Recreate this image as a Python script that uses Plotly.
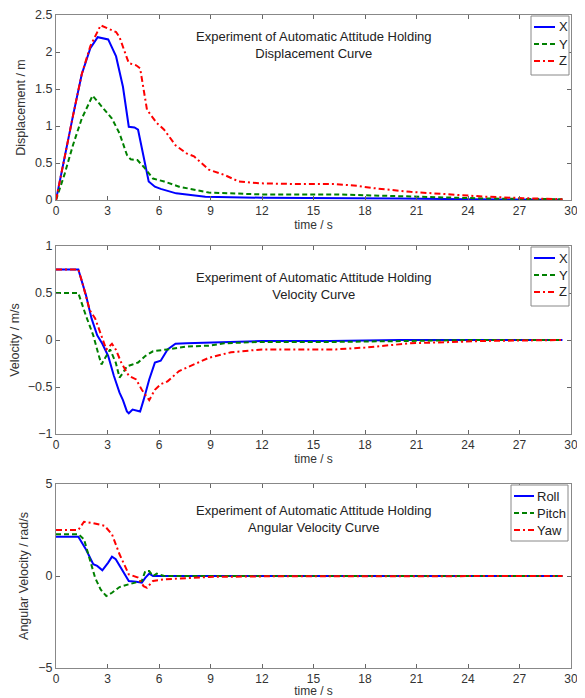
import plotly.graph_objects as go

# ---------------- data ----------------
# Panel 1: displacement
t_dx = [0, 0.5, 1.0, 1.5, 2.0, 2.43, 2.7, 3.04, 3.5, 3.9, 4.24, 4.57, 4.78, 5.1, 5.4, 5.76, 6.1, 7.0, 8.7, 12, 15, 20, 24, 29.5]
dx = [0, 0.6, 1.15, 1.7, 2.05, 2.2, 2.19, 2.17, 1.94, 1.53, 0.99, 0.98, 0.95, 0.58, 0.25, 0.18, 0.15, 0.09, 0.045, 0.03, 0.03, 0.02, 0.01, 0.005]

t_dy = [0, 0.5, 1.0, 1.5, 2.13, 2.83, 3.26, 3.7, 4.13, 4.35, 4.74, 5.1, 5.65, 6.3, 7.17, 8.9, 12, 16.3, 18.5, 20.65, 25, 29.5]
dy = [0, 0.35, 0.75, 1.1, 1.41, 1.22, 1.1, 0.9, 0.61, 0.55, 0.54, 0.45, 0.29, 0.25, 0.18, 0.1, 0.075, 0.075, 0.06, 0.045, 0.02, 0.01]

t_dz = [0, 0.5, 1.0, 1.5, 2.0, 2.6, 3.5, 3.7, 4.24, 4.67, 4.9, 5.3, 5.87, 6.3, 6.96, 7.6, 8.04, 8.9, 9.8, 10.65, 11.96, 14.1, 16.3, 17.6, 18.5, 20.65, 22.8, 25, 27.2, 29.5]
dz = [0, 0.6, 1.15, 1.7, 2.08, 2.36, 2.27, 2.2, 1.85, 1.82, 1.78, 1.22, 1.04, 0.95, 0.74, 0.63, 0.59, 0.41, 0.34, 0.25, 0.225, 0.215, 0.215, 0.19, 0.16, 0.11, 0.08, 0.045, 0.025, 0.01]

# Panel 2: velocity
t_vx = [0, 1.3, 1.74, 2.07, 2.4, 2.7, 3.04, 3.37, 3.7, 3.9, 4.13, 4.24, 4.46, 4.67, 4.9, 5.1, 5.43, 5.76, 6.1, 6.5, 6.96, 7.6, 9.8, 12, 16, 20, 24, 29.5]
vx = [0.75, 0.75, 0.48, 0.23, 0.05, -0.04, -0.17, -0.38, -0.56, -0.64, -0.76, -0.78, -0.74, -0.75, -0.76, -0.64, -0.42, -0.24, -0.22, -0.1, -0.04, -0.035, -0.02, -0.01, -0.01, 0.0, 0.0, 0.0]

t_vy = [0, 1.3, 1.74, 2.17, 2.5, 2.65, 2.83, 3.15, 3.48, 3.7, 3.9, 4.13, 4.46, 4.78, 5.2, 5.65, 6.5, 7.6, 8.9, 9.8, 12, 16.3, 20.65, 24, 29.5]
vy = [0.5, 0.5, 0.26, 0.05, -0.17, -0.26, -0.2, -0.1, -0.24, -0.4, -0.35, -0.28, -0.26, -0.24, -0.17, -0.12, -0.1, -0.07, -0.06, -0.035, -0.02, -0.02, -0.01, 0.0, 0.0]

t_vz = [0, 1.3, 1.52, 1.96, 2.28, 2.7, 2.93, 3.26, 3.48, 3.8, 4.24, 4.67, 5.0, 5.43, 5.76, 6.1, 6.5, 7.17, 8.04, 8.9, 10.2, 12, 16.3, 18, 20.65, 22.8, 25, 29.5]
vz = [0.75, 0.75, 0.62, 0.32, 0.23, 0.01, -0.1, -0.04, -0.1, -0.24, -0.38, -0.42, -0.53, -0.64, -0.53, -0.47, -0.44, -0.33, -0.26, -0.19, -0.13, -0.1, -0.1, -0.08, -0.035, -0.025, -0.01, 0.0]

# Panel 3: angular velocity
t_roll = [0, 1.3, 1.74, 2.17, 2.4, 2.7, 3.04, 3.26, 3.48, 3.9, 4.24, 4.67, 5.0, 5.2, 5.43, 5.65, 6.5, 9, 15, 22, 29.5]
roll = [2.13, 2.13, 1.45, 0.64, 0.55, 0.31, 0.73, 1.05, 0.91, 0.27, -0.27, -0.31, -0.36, -0.1, 0.13, 0.0, 0.0, 0.0, 0.0, 0.0, 0.0]

t_pitch = [0, 1.3, 1.63, 1.96, 2.28, 2.6, 2.93, 3.26, 3.7, 4.24, 4.67, 5.0, 5.2, 5.43, 5.65, 5.87, 6.3, 9, 15, 22, 29.5]
pitch = [2.27, 2.27, 2.0, 1.0, -0.1, -0.73, -1.09, -0.91, -0.6, -0.45, -0.36, -0.27, 0.27, 0.27, 0.0, 0.13, 0.0, 0.0, 0.0, 0.0, 0.0]

t_yaw = [0, 1.3, 1.63, 2.17, 2.83, 3.26, 3.7, 4.24, 4.78, 5.1, 5.3, 5.65, 6.3, 7.6, 8.9, 12, 18, 24, 29.5]
yaw = [2.5, 2.5, 2.95, 2.87, 2.73, 2.27, 1.18, 0.09, -0.09, -0.55, -0.64, -0.27, -0.18, -0.13, -0.05, -0.02, 0.0, 0.0, 0.0]

x_ticks = [0, 3, 6, 9, 12, 15, 18, 21, 24, 27, 30]
y_ticks = [[0, 0.5, 1, 1.5, 2, 2.5], [-1, -0.5, 0, 0.5, 1], [-5, 0, 5]]
panel_titles = ["Experiment of Automatic Attitude Holding<br>Displacement Curve",
                "Experiment of Automatic Attitude Holding<br>Velocity Curve",
                "Experiment of Automatic Attitude Holding<br>Angular Velocity Curve"]
y_titles = ["Displacement / m", "Velocity / m/s", "Angular Velocity / rad/s"]
legend_names = [["X", "Y", "Z"], ["X", "Y", "Z"], ["Roll", "Pitch", "Yaw"]]

# ---------------- figure ----------------
BLUE = "#0000ff"
GREEN = "#008000"
RED = "#ff0000"
COLORS = [BLUE, GREEN, RED]
DASH = "5px,3px"
DASHDOT = "6px,3px,2px,3px"
DASHES = ["solid", DASH, DASHDOT]
OFF = 8            # page body margin of the html page
W = 585 - OFF      # figure size so that it fits the window exactly
H = 698 - OFF
FONT = "Liberation Sans, Arial, sans-serif"

fig = go.Figure()

series = [
    [(t_dx, dx), (t_dy, dy), (t_dz, dz)],
    [(t_vx, vx), (t_vy, vy), (t_vz, vz)],
    [(t_roll, roll), (t_pitch, pitch), (t_yaw, yaw)],
]

for i, group in enumerate(series):
    sfx = "" if i == 0 else str(i + 1)
    for j, (t, v) in enumerate(group):
        fig.add_trace(go.Scatter(
            x=t, y=v, name=legend_names[i][j], mode="lines",
            line=dict(color=COLORS[j], width=2, dash=DASHES[j]),
            xaxis="x" + sfx, yaxis="y" + sfx, showlegend=False,
        ))

def px_x(p):
    return (p - OFF) / W

def px_y(p):
    return 1 - (p - OFF) / H

x_dom = [px_x(56), px_x(571)]
panels_px = [(15, 200), (246, 434), (484, 668)]
y_ranges = [[0, 2.5], [-1, 1], [-5, 5]]
title_y = [(2.2, 1.99), (0.65, 0.49), (3.5, 2.7)]
# legend boxes in pixels: (left, right, line_start, line_end, text_x)
legend_px = [(531, 569, 534, 555, 557), (531, 569, 534, 555, 557), (511, 568, 514, 534, 535)]
legend_rows = [11, 28, 45]
legend_h = [59, 59, 56]

axis_common = dict(
    showgrid=False, zeroline=False, showline=True, mirror="ticks",
    linecolor="#888888", linewidth=1, ticks="inside", ticklen=4,
    tickcolor="#666666", automargin=False, ticklabeloverflow="allow",
    tickfont=dict(family=FONT, size=12.5, color="#333333"),
)

for i in range(3):
    sfx = "" if i == 0 else str(i + 1)
    top, bot = panels_px[i]
    ydom = [px_y(bot), px_y(top)]
    fig.layout["xaxis" + sfx] = dict(
        axis_common, domain=x_dom, range=[0, 30], tickvals=x_ticks,
        anchor="y" + sfx,
        tickfont=dict(family=FONT, size=12, color="#333333"),
        title=dict(text="time / s", font=dict(family=FONT, size=12, color="#333333"), standoff=0),
    )
    fig.layout["yaxis" + sfx] = dict(
        axis_common, domain=ydom, range=y_ranges[i], tickvals=y_ticks[i],
        anchor="x" + sfx,
        title=dict(text=y_titles[i], font=dict(family=FONT, size=12.5, color="#333333"), standoff=6),
    )
    fig.add_annotation(
        text=panel_titles[i], x=15, y=(title_y[i][0] + title_y[i][1]) / 2,
        xref="x" + sfx, yref="y" + sfx, showarrow=False,
        font=dict(family=FONT, size=13, color="#222222"),
        align="center",
    )
    # custom legend
    lx0, lx1, ls0, ls1, tx = legend_px[i]
    fig.add_shape(type="rect", xref="paper", yref="paper",
                  x0=px_x(lx0), x1=px_x(lx1), y0=px_y(top + 1), y1=px_y(top + 1 + legend_h[i]),
                  line=dict(color="#888888", width=1), fillcolor="white", layer="above")
    for j in range(3):
        ry = top + 1 + legend_rows[j]
        fig.add_shape(type="line", xref="paper", yref="paper",
                      x0=px_x(ls0), x1=px_x(ls1), y0=px_y(ry), y1=px_y(ry),
                      line=dict(color=COLORS[j], width=2, dash=DASHES[j]), layer="above")
        fig.add_annotation(text=legend_names[i][j], xref="paper", yref="paper",
                           x=px_x(tx), y=px_y(ry), xanchor="left", yanchor="middle",
                           showarrow=False,
                           font=dict(family=FONT, size=13, color="#222222"))

fig.update_layout(
    width=W, height=H,
    margin=dict(l=0, r=0, t=0, b=0),
    paper_bgcolor="white", plot_bgcolor="white",
    showlegend=False,
)

fig.write_html("out.html")
